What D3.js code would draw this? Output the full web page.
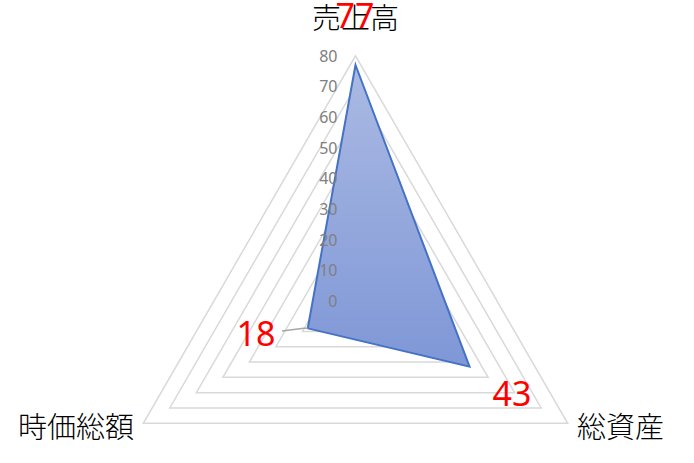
<!DOCTYPE html>
<html><head><meta charset="utf-8">
<script src="https://cdn.jsdelivr.net/npm/d3@7"></script>
<style>body{margin:0;background:#fff}svg{display:block}</style>
</head><body>
<script>
const categories = ["売上高", "総資産", "時価総額"];
const values = [77, 43, 18];
const tickValues = [0, 10, 20, 30, 40, 50, 60, 70, 80];

const W = 694, H = 463;
const cx = 355.5, cy = 300.8;
const r = d3.scaleLinear().domain([0, 80]).range([0, 245]);
const angle = d3.scaleLinear().domain([0, categories.length]).range([0, 2 * Math.PI]);
const pt = (i, v) => [cx + r(v) * Math.sin(angle(i)), cy - r(v) * Math.cos(angle(i))];

const svg = d3.select("body").append("svg").attr("width", W).attr("height", H);
const defs = svg.append("defs");
const grad = defs.append("linearGradient").attr("id", "g").attr("x1", 0).attr("y1", 0).attr("x2", 0).attr("y2", 1);
grad.append("stop").attr("offset", "0%").attr("stop-color", "#abbae3");
grad.append("stop").attr("offset", "100%").attr("stop-color", "#7f97d7");

const line = d3.line();
// grid
svg.append("g").selectAll("path").data(tickValues.filter(t => t > 0)).join("path")
  .attr("d", t => line(categories.map((c, i) => pt(i, t))) + "Z")
  .attr("fill", "none").attr("stroke", "#d9d9d9").attr("stroke-width", 1.5);

// data polygon
svg.append("path")
  .attr("d", line(values.map((v, i) => pt(i, v))) + "Z")
  .attr("fill", "url(#g)").attr("stroke", "#4472c4").attr("stroke-width", 2).attr("stroke-linejoin", "miter");

// tick labels
svg.append("g").selectAll("text").data(tickValues).join("text")
  .attr("x", cx - 18).attr("y", t => cy - r(t))
  .attr("text-anchor", "end").attr("dominant-baseline", "central")
  .attr("font-family", "'Noto Sans', sans-serif").attr("font-size", 16).attr("fill", "#808080")
  .text(t => t);

// category labels
const catPos = [
  {x: cx, y: 16, a: "middle"},
  {x: 577, y: 425, a: "start"},
  {x: 134, y: 425, a: "end"}
];
svg.append("g").selectAll("text").data(categories).join("text")
  .attr("x", (d, i) => catPos[i].x).attr("y", (d, i) => catPos[i].y)
  .attr("text-anchor", (d, i) => catPos[i].a).attr("dominant-baseline", "central")
  .attr("font-family", "'Noto Sans CJK JP', sans-serif").attr("font-weight", 300)
  .attr("font-size", 29).attr("fill", "#000")
  .text(d => d);

// leader line for 時価総額 label
const p2 = pt(2, values[2]);
svg.append("path").attr("d", line([[282, 331], [p2[0] - 4, p2[1]], p2]))
  .attr("fill", "none").attr("stroke", "#a6a6a6").attr("stroke-width", 1.5);

// data labels
const lblPos = [
  {x: 355, y: 15},
  {x: 512, y: 393},
  {x: 256, y: 333}
];
svg.append("g").selectAll("text").data(values).join("text")
  .attr("x", (d, i) => lblPos[i].x).attr("y", (d, i) => lblPos[i].y)
  .attr("text-anchor", "middle").attr("dominant-baseline", "central")
  .attr("font-family", "'Noto Sans', sans-serif").attr("font-size", 34).attr("fill", "#ff0000")
  .text(d => d);
</script>
</body></html>
